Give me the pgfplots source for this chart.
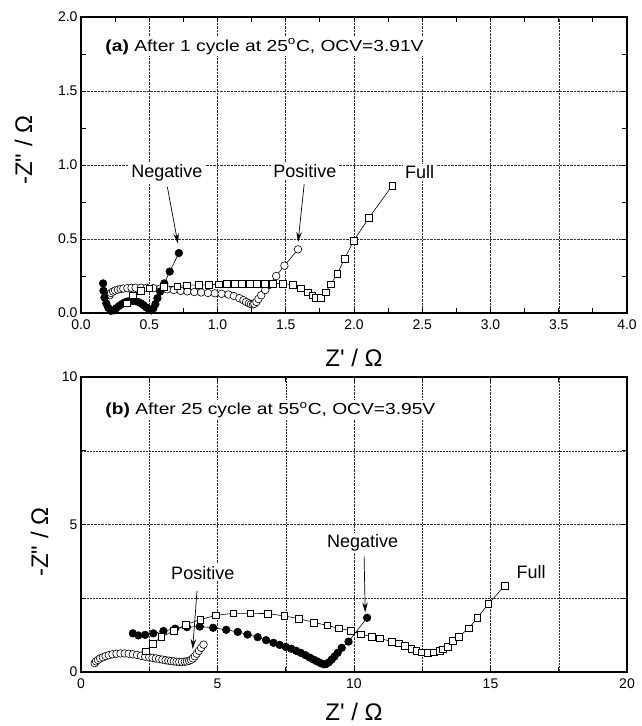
\documentclass[border=0pt]{standalone}
\usepackage{fontspec}
\setmainfont{Liberation Sans}
\newfontfamily\rawfont{Liberation Sans}[Ligatures=TeXOff]
\usepackage{pgfplots}
\pgfplotsset{compat=1.18}
\usetikzlibrary{arrows.meta}

\pgfplotsset{
  myax/.style={
    scale only axis, width=546pt,
    axis line style={line width=1.1pt},
    tick style={black, line width=0.8pt},
    major tick length=5pt, minor tick length=5pt,
    tick align=inside,
    grid style={densely dotted, line width=0.5pt, black!80},
    minor grid style={densely dotted, line width=0.5pt, black!80},
    /pgf/number format/assume math mode=true,
    tick label style={font=\fontsize{14}{16}\selectfont},
    xticklabel style={yshift=-3pt},
    every axis plot/.append style={black, line width=0.6pt},
  },
  neg/.style={mark=*, mark size=3.8pt, mark options={fill=black, line width=0.6pt}},
  pos/.style={mark=*, mark size=3.8pt, mark options={fill=white, line width=0.6pt}},
  full/.style={mark=square*, mark size=3.4pt, mark options={fill=white, line width=0.6pt}},
}
\tikzset{
  ann/.style={font=\fontsize{18}{21}\selectfont, fill=white, inner sep=2pt},
  ttl/.style={font=\fontsize{16}{19}\selectfont, fill=white, inner sep=2pt, anchor=west, xscale=1.2},
  arr/.style={-{Stealth[length=10pt,width=5.5pt]}, line width=0.7pt},
}
\newcommand{\xlab}{{\rawfont Z' / Ω}}
\newcommand{\ylab}{{\rawfont -Z" / Ω}}

\begin{document}
\begin{tikzpicture}
\begin{axis}[myax, height=296pt,
  at={(0,0)}, anchor=north west,
  xmin=0, xmax=4, ymin=0, ymax=2,
  xtick={0,0.5,...,4}, ytick={0,0.5,...,2},
  minor x tick num=1, minor y tick num=1,
  xmajorgrids, ymajorgrids,
  xticklabel style={/pgf/number format/.cd, fixed, fixed zerofill, precision=1},
  yticklabel style={/pgf/number format/.cd, fixed, fixed zerofill, precision=1},
  xlabel={\xlab}, ylabel={\ylab},
  every axis x label/.style={at={(axis description cs:0.5,-0.152)}, anchor=center, font=\fontsize{24}{28}\selectfont},
  every axis y label/.style={at={(axis description cs:-0.105,0.55)}, rotate=90, anchor=center, font=\fontsize{24}{28}\selectfont},
]
\addplot[pos] coordinates {
(0.21,0.120)(0.22,0.135)(0.235,0.145)(0.25,0.152)(0.27,0.158)(0.29,0.162)(0.31,0.165)
(0.34,0.168)(0.37,0.170)(0.40,0.171)(0.44,0.171)(0.48,0.170)(0.53,0.168)(0.58,0.165)
(0.63,0.160)(0.68,0.155)(0.73,0.150)(0.78,0.146)(0.83,0.142)(0.88,0.139)(0.93,0.136)
(0.98,0.133)(1.03,0.130)(1.08,0.125)(1.12,0.115)(1.16,0.100)(1.19,0.087)(1.21,0.075)
(1.23,0.066)(1.245,0.060)(1.26,0.058)(1.27,0.062)(1.285,0.075)(1.30,0.095)(1.32,0.120)
(1.35,0.155)(1.38,0.190)(1.43,0.250)(1.49,0.320)(1.59,0.430)};
\addplot[neg] coordinates {
(0.162,0.200)(0.165,0.150)(0.172,0.105)(0.185,0.065)(0.200,0.035)(0.218,0.015)
(0.238,0.018)(0.258,0.032)(0.278,0.047)(0.298,0.060)(0.318,0.070)(0.338,0.077)
(0.358,0.081)(0.378,0.082)(0.398,0.080)(0.418,0.075)(0.438,0.066)(0.458,0.053)
(0.478,0.038)(0.498,0.024)(0.515,0.018)(0.530,0.032)(0.545,0.060)(0.560,0.100)
(0.580,0.145)(0.610,0.200)(0.650,0.280)(0.717,0.405)};
\addplot[full] coordinates {
(0.335,0.065)(0.380,0.120)(0.440,0.150)(0.500,0.167)(0.609,0.178)(0.705,0.180)
(0.778,0.187)(0.862,0.190)(0.935,0.190)(1.007,0.194)(1.068,0.196)(1.128,0.197)
(1.176,0.198)(1.237,0.199)(1.285,0.200)(1.345,0.200)(1.406,0.200)(1.478,0.200)
(1.550,0.190)(1.610,0.167)(1.659,0.140)(1.695,0.120)(1.720,0.105)(1.757,0.105)
(1.793,0.140)(1.830,0.194)(1.877,0.264)(1.930,0.365)(1.998,0.489)(2.110,0.644)
(2.280,0.860)};
\node[ttl] at (axis cs:0.16,1.80) {\textbf{(a)} After 1 cycle at 25\textsuperscript{o}C, OCV=3.91V};
\node[ann] at (axis cs:0.63,0.95) {Negative};
\node[ann] at (axis cs:1.64,0.96) {Positive};
\node[ann] at (axis cs:2.48,0.95) {Full};
\draw[arr] (axis cs:0.633,0.85) -- (axis cs:0.71,0.47);
\draw[arr] (axis cs:1.635,0.87) -- (axis cs:1.59,0.48);
\end{axis}

\begin{axis}[myax, height=295pt,
  at={(0,-360pt)}, anchor=north west,
  xmin=0, xmax=20, ymin=0, ymax=10,
  xtick={0,5,...,20}, ytick={0,5,10},
  minor x tick num=1, minor y tick num=1,
  grid=both,
  xlabel={\xlab}, ylabel={\ylab},
  every axis x label/.style={at={(axis description cs:0.5,-0.136)}, anchor=center, font=\fontsize{24}{28}\selectfont},
  every axis y label/.style={at={(axis description cs:-0.076,0.44)}, rotate=90, anchor=center, font=\fontsize{24}{28}\selectfont},
]
\addplot[pos] coordinates {
(0.50,0.30)(0.55,0.36)(0.62,0.41)(0.70,0.46)(0.80,0.50)(0.90,0.54)(1.02,0.57)(1.15,0.60)
(1.30,0.62)(1.45,0.63)(1.60,0.63)(1.75,0.62)(1.90,0.60)(2.05,0.58)(2.20,0.55)(2.35,0.52)
(2.50,0.50)(2.62,0.48)(2.74,0.46)(2.86,0.44)(2.98,0.42)(3.10,0.40)(3.20,0.385)(3.30,0.37)
(3.40,0.36)(3.50,0.35)(3.60,0.345)(3.70,0.345)(3.80,0.35)(3.88,0.36)(3.96,0.38)(4.03,0.41)
(4.10,0.46)(4.17,0.53)(4.24,0.62)(4.32,0.72)(4.40,0.82)(4.49,0.93)};
\addplot[neg] coordinates {
(1.90,1.31)(2.10,1.24)(2.35,1.26)(2.65,1.31)(3.02,1.39)(3.45,1.47)(3.88,1.52)(4.35,1.54)
(4.84,1.50)(5.32,1.43)(5.74,1.36)(6.10,1.27)(6.47,1.18)(6.78,1.08)(7.05,0.99)(7.28,0.92)
(7.50,0.85)(7.70,0.79)(7.88,0.72)(8.05,0.65)(8.22,0.57)(8.38,0.49)(8.52,0.42)(8.65,0.36)
(8.78,0.30)(8.90,0.26)(8.98,0.27)(9.08,0.33)(9.18,0.42)(9.28,0.52)(9.40,0.65)(9.55,0.82)
(9.80,1.03)(10.48,1.84)};
\addplot[full] coordinates {
(2.38,0.70)(2.62,0.96)(2.94,1.18)(3.39,1.40)(3.83,1.60)(4.37,1.78)(4.94,1.92)(5.58,1.99)
(6.20,1.99)(6.85,1.98)(7.45,1.90)(7.97,1.81)(8.54,1.68)(9.02,1.58)(9.44,1.48)(9.89,1.40)
(10.25,1.28)(10.65,1.20)(10.95,1.14)(11.38,1.03)(11.65,0.97)(11.86,0.88)(12.10,0.80)
(12.28,0.72)(12.49,0.67)(12.70,0.65)(12.91,0.67)(13.13,0.71)(13.25,0.77)(13.43,0.86)
(13.61,1.06)(13.83,1.20)(14.21,1.48)(14.52,1.84)(14.92,2.30)(15.51,2.92)};
\node[ttl] at (axis cs:0.80,8.88) {\textbf{(b)} After 25 cycle at 55\textsuperscript{o}C, OCV=3.95V};
\node[ann] at (axis cs:4.46,3.36) {Positive};
\node[ann] at (axis cs:10.32,4.37) {Negative};
\node[ann] at (axis cs:16.49,3.39) {Full};
\draw[arr] (axis cs:4.25,2.75) -- (axis cs:4.09,0.78);
\draw[arr] (axis cs:10.37,3.93) -- (axis cs:10.41,2.02);
\end{axis}
\pgfresetboundingbox
\path[use as bounding box] (-81pt,17pt) rectangle (560pt,-709pt);
\end{tikzpicture}
\end{document}
